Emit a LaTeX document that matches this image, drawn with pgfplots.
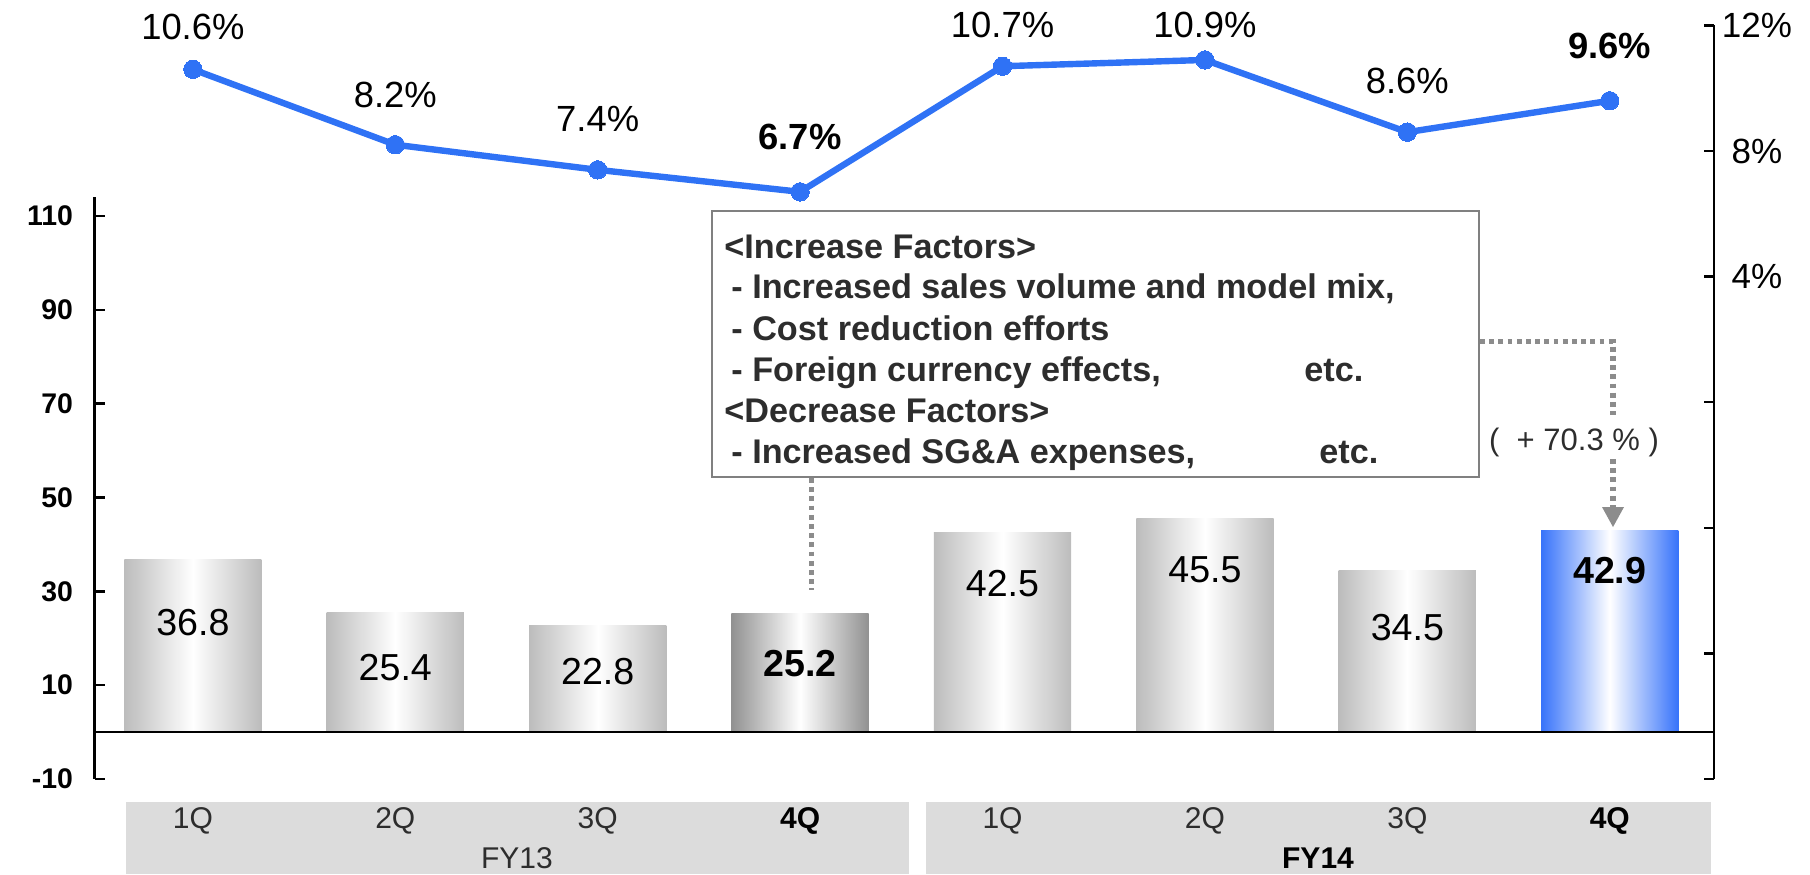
\documentclass[border=0pt]{standalone}
\usepackage{pgfplots}
\pgfplotsset{compat=1.18}
\usepackage{pgfplotstable}
\usepackage{fontspec}
\setmainfont{Liberation Sans}
\usetikzlibrary{arrows.meta}
\definecolor{barEdge}{RGB}{188,188,188}
\definecolor{darkEdge}{RGB}{145,145,145}
\definecolor{blueEdge}{RGB}{55,115,250}
\definecolor{lineBlue}{RGB}{47,114,245}
\definecolor{bandGray}{RGB}{220,220,220}
\definecolor{dotGray}{RGB}{140,140,140}
\definecolor{boxGray}{RGB}{128,128,128}
\definecolor{txtGray}{RGB}{45,45,45}

% operating margin (%)
\pgfplotstableread{
x y
0 10.6
1 8.2
2 7.4
3 6.7
4 10.7
5 10.9
6 8.6
7 9.6
}\margin
% label positions for the margin values
\pgfplotstableread{
x y lab
0 11.95 10.6
1 9.78 8.2
2 9.01 7.4
4 12.0 10.7
5 12.0 10.9
6 10.22 8.6
}\marginlabels
\pgfplotstableread{
x y lab
3 8.46 6.7
7 11.33 9.6
}\marginlabelsbold
% label positions for the bar values
\pgfplotstableread{
x y lab
0 23.3 36.8
1 13.8 25.4
2 12.8 22.8
4 31.7 42.5
5 34.7 45.5
6 22.2 34.5
}\barlabels
\pgfplotstableread{
x y lab
3 14.5 25.2
7 34.5 42.9
}\barlabelsbold

\begin{document}
\begin{tikzpicture}
\begin{scope}[x=0.5pt,y=-0.5pt]
\path[use as bounding box] (0,0) rectangle (1810,874);
\fill[bandGray] (125.8,801.7) rectangle (909,874);
\fill[bandGray] (925.5,801.7) rectangle (1711,874);
\node[text=txtGray, font=\fontsize{15}{18}\selectfont] at (517,858) {FY13};
\node[text=black, font=\fontsize{15}{18}\selectfont\bfseries] at (1318,858) {FY14};
\end{scope}

\begin{axis}[
  at={(47.35pt,-389.5pt)}, anchor=south west,
  scale only axis, width=809.65pt, height=376.8pt,
  xmin=-0.485, xmax=7.515, ymin=-10, ymax=150.6,
  clip=false,
  axis x line*=bottom, axis y line*=left,
  x axis line style={draw=none}, y axis line style={draw=none},
  xtick={0,1,2,3,4,5,6,7},
  xticklabels={1Q,2Q,3Q,\textcolor{black}{\textbf{4Q}},1Q,2Q,3Q,\textcolor{black}{\textbf{4Q}}},
  xtick style={draw=none},
  xticklabel style={anchor=center, yshift=-21pt, font=\fontsize{15}{18}\selectfont, text=txtGray},
  ytick={-10,10,30,50,70,90,110},
  yticklabels={-10,10,30,50,70,90,110},
  ytick style={black, line width=1.2pt},
  tick align=inside, major tick length=5pt,
  yticklabel style={anchor=east, inner sep=0pt, xshift=-10.7pt, font=\fontsize{14.2}{17}\selectfont\bfseries},
]
\addplot[ybar, bar width=0.678, bar shift=0pt, draw=none, left color=barEdge, right color=barEdge, middle color=white] coordinates {(0,36.8)};
\addplot[ybar, bar width=0.678, bar shift=0pt, draw=none, left color=barEdge, right color=barEdge, middle color=white] coordinates {(1,25.4)};
\addplot[ybar, bar width=0.678, bar shift=0pt, draw=none, left color=barEdge, right color=barEdge, middle color=white] coordinates {(2,22.8)};
\addplot[ybar, bar width=0.678, bar shift=0pt, draw=none, left color=darkEdge, right color=darkEdge, middle color=white] coordinates {(3,25.2)};
\addplot[ybar, bar width=0.678, bar shift=0pt, draw=none, left color=barEdge, right color=barEdge, middle color=white] coordinates {(4,42.5)};
\addplot[ybar, bar width=0.678, bar shift=0pt, draw=none, left color=barEdge, right color=barEdge, middle color=white] coordinates {(5,45.5)};
\addplot[ybar, bar width=0.678, bar shift=0pt, draw=none, left color=barEdge, right color=barEdge, middle color=white] coordinates {(6,34.5)};
\addplot[ybar, bar width=0.678, bar shift=0pt, draw=none, left color=blueEdge, right color=blueEdge, middle color=white] coordinates {(7,42.9)};
\addplot[draw=none, nodes near coords, point meta=explicit symbolic,
  nodes near coords style={anchor=center, text=black, font=\fontsize{18.8}{22}\selectfont}]
  table[x=x, y=y, meta=lab] {\barlabels};
\addplot[draw=none, nodes near coords, point meta=explicit symbolic,
  nodes near coords style={anchor=center, text=black, font=\fontsize{18.8}{22}\selectfont\bfseries}]
  table[x=x, y=y, meta=lab] {\barlabelsbold};
\draw[line width=1.2pt] (axis cs:-0.485,114) -- (axis cs:-0.485,-10);
\draw[line width=1.2pt] (axis cs:-0.485,0) -- (axis cs:7.515,0);
\end{axis}

\begin{axis}[
  at={(47.35pt,-389.5pt)}, anchor=south west,
  scale only axis, width=809.65pt, height=376.8pt,
  xmin=-0.485, xmax=7.515, ymin=-12, ymax=12,
  clip=false,
  axis x line=none,
  axis y line*=right,
  y axis line style={line width=1.2pt},
  ytick={-12,-8,-4,0,4,8,12},
  yticklabels={,,,,4\%,8\%,12\%},
  ytick style={black, line width=1.2pt},
  tick align=inside, major tick length=5pt,
  yticklabel style={anchor=center, xshift=21.5pt, font=\fontsize{17.5}{20}\selectfont},
]
\addplot[lineBlue, line width=3.2pt, mark=*, mark size=4.6pt,
  mark options={fill=lineBlue, draw=lineBlue, line width=0pt}] table[x=x, y=y] {\margin};
\addplot[draw=none, nodes near coords={\pgfplotspointmeta\%}, point meta=explicit symbolic,
  nodes near coords style={anchor=center, text=black, font=\fontsize{18.2}{21}\selectfont}]
  table[x=x, y=y, meta=lab] {\marginlabels};
\addplot[draw=none, nodes near coords={\pgfplotspointmeta\%}, point meta=explicit symbolic,
  nodes near coords style={anchor=center, text=black, font=\fontsize{18.2}{21}\selectfont\bfseries}]
  table[x=x, y=y, meta=lab] {\marginlabelsbold};
\end{axis}

\begin{scope}[x=0.5pt,y=-0.5pt]
\draw[boxGray, line width=0.9pt, fill=white] (712,211) rectangle (1479,477);
\begin{scope}[every node/.style={anchor=base west, inner sep=0pt, text=txtGray, font=\fontsize{17.1}{20}\selectfont\bfseries}]
\node at (724,258) {<Increase Factors>};
\node at (731,298.6) {- Increased sales volume and model mix,};
\node at (731,340) {- Cost reduction efforts};
\node at (731,381.6) {- Foreign currency effects,};
\node at (1304,381.6) {etc.};
\node at (724,422) {<Decrease Factors>};
\node at (731,463.6) {- Increased SG\&A expenses,};
\node at (1319,463.6) {etc.};
\end{scope}
\draw[dotGray, line width=2.6pt, dash pattern=on 2.4pt off 2.2pt] (811.5,478) -- (811.5,590);
\draw[dotGray, line width=2.6pt, dash pattern=on 2.4pt off 2.2pt] (1480,341.7) -- (1613,341.7) -- (1613,415);
\draw[dotGray, line width=2.6pt, dash pattern=on 2.4pt off 2.2pt] (1613,459) -- (1613,510);
\fill[dotGray] (1602,507) -- (1624,507) -- (1613,527) -- cycle;
\node[text=txtGray, inner sep=0pt, font=\fontsize{15.5}{18}\selectfont] at (1574,442) {(\ \ + 70.3 \% )};
\end{scope}
\end{tikzpicture}
\end{document}
